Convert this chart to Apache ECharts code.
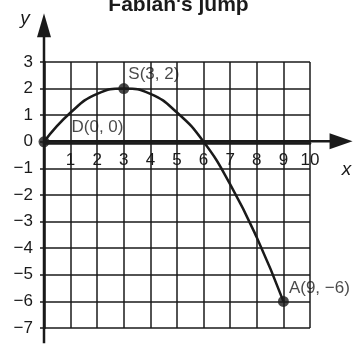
<!DOCTYPE html>
<html>
<head>
<meta charset="utf-8">
<script src="https://cdn.jsdelivr.net/npm/echarts@6/dist/echarts.min.js"></script>
<style>
html, body { margin: 0; padding: 0; background: #fff; }
#chart { width: 357px; height: 352px; }
</style>
</head>
<body>
<div id="chart"></div>
<script>
'use strict';

// curve of the jump
var jumpX = [0, 1, 2, 3, 4, 5, 6, 7, 8, 9];
var jumpY = [0, 1.1, 1.8, 2, 1.8, 1.1, 0, -1.6, -3.6, -6];

// marked points
var pointNames = ['D', 'S', 'A'];
var pointX = [0, 3, 9];
var pointY = [0, 2, -6];

// axis ranges
var xRange = [0, 10];
var yRange = [-7, 3];

var font = "'Liberation Sans', Arial, sans-serif";
var ink = '#1a1a1a';

function minus(v) {
	return v < 0 ? '\u2212' + (-v) : String(v);
}

var curve = [];
for (var i = 0; i < jumpX.length; i++) {
	curve.push([jumpX[i], jumpY[i]]);
}

// label offsets for each point (D, S, A)
var labelPos = [[33, -9], [10, -9], [11, -8]];
var points = [];
for (var i = 0; i < pointNames.length; i++) {
	points.push({
		value: [pointX[i], pointY[i]],
		name: pointNames[i],
		label: { position: labelPos[i] }
	});
}

var myChart = echarts.init(document.getElementById('chart'));

myChart.setOption({
	animation: false,
	title: {
		text: "Fabian's jump",
		left: 'center',
		top: -10,
		textStyle: {
			fontFamily: font,
			fontSize: 21,
			fontWeight: 'bold',
			color: ink
		}
	},
	grid: {
		left: 44,
		right: 47,
		top: 62,
		bottom: 24
	},
	xAxis: {
		type: 'value',
		min: xRange[0],
		max: xRange[1],
		interval: 1,
		position: 'bottom',
		axisLine: { onZero: false, lineStyle: { color: ink, width: 2.5 } },
		axisTick: { show: false },
		axisLabel: {
			margin: 9,
			fontFamily: font,
			fontSize: 17,
			color: ink,
			formatter: function (v) { return v === 0 ? '' : minus(v); }
		},
		splitLine: { show: true, lineStyle: { color: ink, width: 1.5 } }
	},
	yAxis: {
		type: 'value',
		min: yRange[0],
		max: yRange[1],
		interval: 1,
		axisLine: { onZero: false, lineStyle: { color: ink, width: 2.5 } },
		axisTick: { show: true, length: 4, lineStyle: { color: ink, width: 1.5 } },
		axisLabel: {
			margin: 11,
			fontFamily: font,
			fontSize: 17,
			color: ink,
			formatter: minus
		},
		splitLine: { show: true, lineStyle: { color: ink, width: 1.5 } }
	},
	series: [{
		type: 'line',
		data: curve,
		smooth: true,
		showSymbol: false,
		lineStyle: { color: ink, width: 2.5 },
		z: 3
	}, {
		type: 'scatter',
		data: points,
		symbolSize: 11,
		itemStyle: { color: ink },
		label: {
			show: true,
			verticalAlign: 'middle',
			align: 'left',
			fontFamily: font,
			fontSize: 17,
			color: ink,
			formatter: function (p) {
				return p.name + '(' + minus(p.value[0]) + ', ' + minus(p.value[1]) + ')';
			}
		},
		z: 4
	}]
});

// axis arrows and letters, placed from the axis scale
function toPx(x, y) {
	return myChart.convertToPixel({ xAxisIndex: 0, yAxisIndex: 0 }, [x, y]);
}

var o = toPx(0, 0);
var gridBottom = toPx(0, yRange[0]);
var yTip = toPx(0, 4.85);
var yBottom = toPx(0, -7.65);
var xTip = toPx(11.6, 0);

myChart.setOption({
	// move the x axis (line + labels) up to y = 0
	xAxis: { offset: -(gridBottom[1] - o[1]) },
	graphic: [{
		type: 'line',
		shape: { x1: o[0], y1: yBottom[1], x2: o[0], y2: yTip[1] + 10 },
		style: { stroke: ink, lineWidth: 2.5 }
	}, {
		type: 'polygon',
		shape: { points: [[o[0], yTip[1]], [o[0] - 7, yTip[1] + 24], [o[0] + 7, yTip[1] + 24]] },
		style: { fill: ink }
	}, {
		type: 'line',
		shape: { x1: o[0], y1: o[1], x2: xTip[0] - 10, y2: o[1] },
		style: { stroke: ink, lineWidth: 2.5 }
	}, {
		type: 'polygon',
		shape: { points: [[xTip[0], o[1]], [xTip[0] - 23, o[1] - 8], [xTip[0] - 23, o[1] + 8]] },
		style: { fill: ink }
	}, {
		type: 'text',
		x: o[0] - 19,
		y: yTip[1] + 6,
		style: {
			text: 'y',
			font: 'italic 19px ' + font,
			fill: ink,
			align: 'center',
			verticalAlign: 'middle'
		}
	}, {
		type: 'text',
		x: xTip[0] - 6,
		y: o[1] + 29,
		style: {
			text: 'x',
			font: 'italic 19px ' + font,
			fill: ink,
			align: 'center',
			verticalAlign: 'middle'
		}
	}]
});
</script>
</body>
</html>
